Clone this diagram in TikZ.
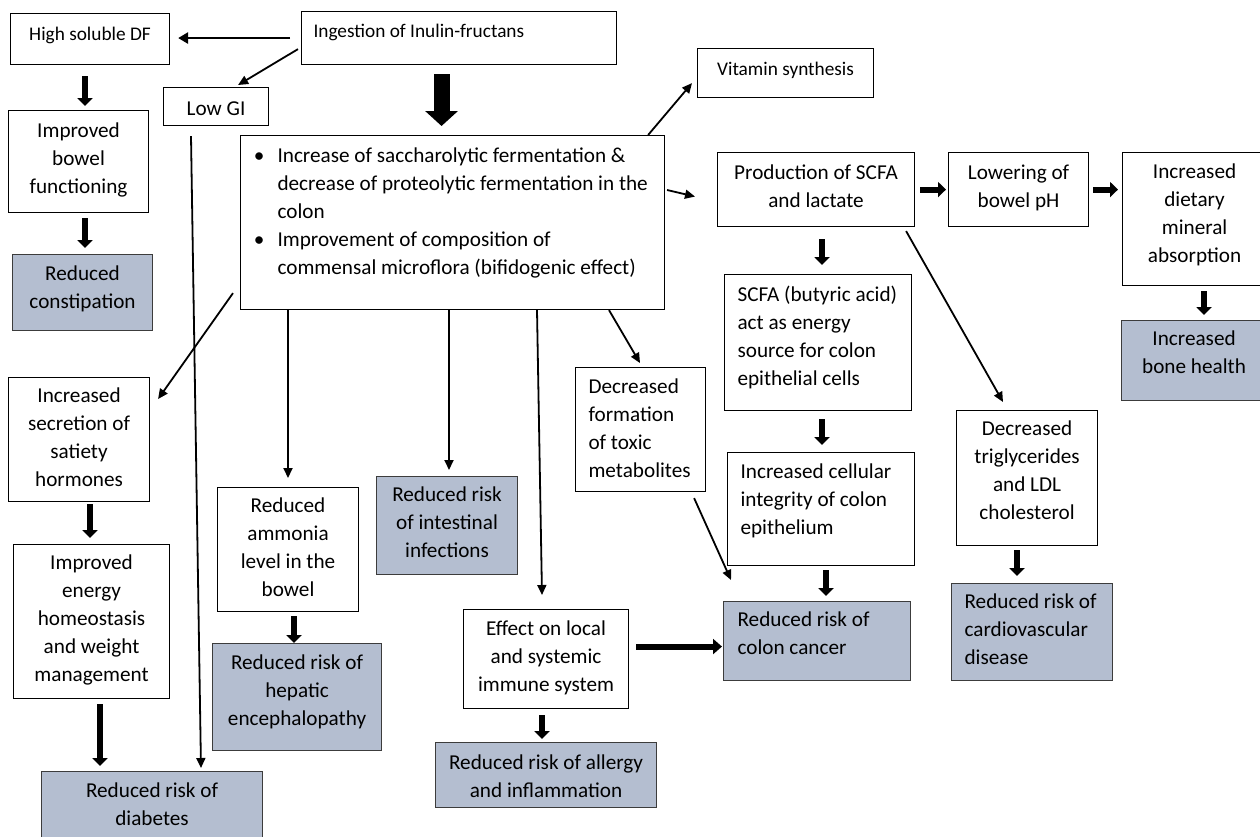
\documentclass[tikz,border=0pt]{standalone}
\usepackage{fontspec}
\setmainfont{Carlito}
\usetikzlibrary{arrows.meta,calc}
\definecolor{bluegray}{RGB}{180,190,208}
\definecolor{edgegray}{RGB}{60,60,60}
\newcommand\bxc[4]{\begin{minipage}[t][#2pt][t]{#1pt}\parskip=0pt\vspace*{#3pt}\centering\strut #4\end{minipage}}
\newcommand\bxl[5]{\begin{minipage}[t][#2pt][t]{#1pt}\parskip=0pt\vspace*{#3pt}\raggedright\leftskip=#4pt\relax\strut #5\end{minipage}}
\tikzset{
  box/.style={draw=black, line width=1.1pt, inner sep=0pt, anchor=north west, font=\fontsize{21.2}{28}\selectfont},
  sbox/.style={box, font=\fontsize{19.3}{28}\selectfont},
  gbox/.style={box, draw=edgegray, fill=bluegray},
  arrA/.style={line width=1.8pt, -{Triangle[length=10pt,width=9pt]}},
  arrM/.style={line width=2.8pt, -{Triangle[length=10pt,width=11pt]}},
  arrT/.style={line width=6pt, -{Triangle[length=8pt,width=15pt]}},
  arrE/.style={line width=6pt, -{Triangle[length=9pt,width=15pt]}},
  arrH/.style={line width=16pt, -{Triangle[length=15pt,width=32pt]}},
}
\begin{document}
\begin{tikzpicture}[x=1pt,y=-1pt]
\clip (0,0) rectangle (1260,836);
% top row
\node[sbox] (hsdf) at (10,13) {\bxc{159}{51}{7.4}{High soluble DF}};
\node[sbox] (ingest) at (301,11) {\bxl{315}{53}{6.4}{12}{Ingestion of Inulin-fructans}};
\node[box] (lowgi) at (163,87) {\bxc{105}{38}{8.4}{Low GI}};
\node[box] (main) at (240,135) {\begin{minipage}[t][174pt][t]{424pt}\parskip=0pt\vspace*{7.4pt}\raggedright\leftskip=37pt\relax
\strut\llap{\textbullet\hspace{13pt}}Increase of saccharolytic fermentation \&\newline decrease of proteolytic fermentation in the\newline colon\par
\strut\llap{\textbullet\hspace{13pt}}Improvement of composition of\newline commensal microflora (bifidogenic effect)\end{minipage}};
\node[sbox] (vitamin) at (697,48) {\bxc{176}{49}{7.4}{Vitamin synthesis}};
\node[box] (prod) at (717,152) {\bxc{197}{74}{7.4}{Production of SCFA\\and lactate}};
\node[box] (lower) at (948,152) {\bxc{140}{74}{7.4}{Lowering of\\bowel pH}};
\node[box] (dietary) at (1122,152) {\bxc{144}{133}{6.4}{Increased\\dietary\\mineral\\absorption}};
\node[gbox] (bone) at (1121,320) {\bxc{145}{80}{5.4}{Increased\\bone health}};
% left column
\node[box] (bowel) at (8,110) {\bxc{140}{102}{7.4}{Improved\\bowel\\functioning}};
\node[gbox] (constip) at (12,254) {\bxc{140}{76}{6.4}{Reduced\\constipation}};
\node[box] (satiety) at (8,377) {\bxc{141}{124}{5.4}{Increased\\secretion of\\satiety\\hormones}};
\node[box] (energy) at (13,544) {\bxc{156}{154}{5.4}{Improved\\energy\\homeostasis\\and weight\\management}};
\node[gbox] (diabetes) at (41,771) {\bxc{221}{80}{6.4}{Reduced risk of\\diabetes}};
% middle
\node[box] (ammonia) at (217,487) {\bxc{141}{124}{5.4}{Reduced\\ammonia\\level in the\\bowel}};
\node[gbox] (hepatic) at (212,643) {\bxc{169}{107}{6.4}{Reduced risk of\\hepatic\\encephalopathy}};
\node[gbox] (intest) at (376,476) {\bxc{141}{98}{5.4}{Reduced risk\\of intestinal\\infections}};
\node[box] (effect) at (463,609) {\bxc{165}{99}{6.4}{Effect on local\\and systemic\\immune system}};
\node[gbox] (allergy) at (435,742) {\bxc{221}{65}{7.4}{Reduced risk of allergy\\and inflammation}};
\node[box] (toxic) at (575,367) {\bxl{130}{124}{6.4}{13}{Decreased\\formation\\of toxic\\metabolites}};
% right
\node[box] (scfa) at (724,274) {\bxl{187}{136}{7.4}{13}{SCFA (butyric acid)\\act as energy\\source for colon\\epithelial cells}};
\node[box] (integ) at (727,452) {\bxl{187}{113}{6.4}{13}{Increased cellular\\integrity of colon\\epithelium}};
\node[gbox] (colon) at (723,601) {\bxl{187}{79}{5.4}{14}{Reduced risk of\\colon cancer}};
\node[box] (trig) at (956,410) {\bxc{141}{135}{5.4}{Decreased\\triglycerides\\and LDL\\cholesterol}};
\node[gbox] (cardio) at (951,583) {\bxl{161}{97}{5.4}{13}{Reduced risk of\\cardiovascular\\disease}};
% connectors
\draw[arrM, shorten <=11pt, shorten >=8pt] (ingest.west) -- (ingest.west -| hsdf.east);
\draw[arrA] ($(ingest.south west)+(-3,-16)$) -- ($(lowgi.north east)+(-31,-2)$);
\draw[arrH] ($(ingest.south)+(-17.5,9)$) -- ($(main.north)+(-11,-9)$);
\draw[arrA] ($(lowgi.south west)+(28,10)$) -- ($(diabetes.north west)+(160,-3)$);
\draw[arrA] ($(main.south west)+(-7,-17)$) -- ($(satiety.north east)+(8,22)$);
\draw[arrA] ($(main.south west)+(48,0)$) -- ($(ammonia.north west)+(71,-9)$);
\draw[arrA] ($(main.south west)+(209,0)$) -- ($(intest.north west)+(73,-6)$);
\draw[arrA] ($(main.south west)+(297,0)$) -- ($(effect.north west)+(79,-14)$);
\draw[arrA] ($(main.south west)+(369,0)$) -- ($(toxic.north west)+(65,-4)$);
\draw[arrA] ($(main.north east)+(-17,0)$) -- ($(vitamin.south west)+(-5,-15)$);
\draw[arrA] ($(main.north east)+(2,55)$) -- ($(prod.west)+(-22,7)$);
\draw[arrT, shorten <=5pt, shorten >=2pt] (prod.east) -- (lower.west);
\draw[arrT, shorten <=4pt, shorten >=4pt] (lower.east) -- (lower.east -| dietary.west);
\draw[arrT] ($(dietary.south west)+(82,5)$) -- ($(bone.north west)+(83,-5)$);
\draw[arrT] ($(prod.south west)+(105,12)$) -- ($(scfa.north west)+(98,-9)$);
\draw[arrT] ($(scfa.south west)+(98,8)$) -- ($(integ.north west)+(95,-7)$);
\draw[arrT] ($(integ.south west)+(99,4)$) -- ($(colon.north west)+(103,-5)$);
\draw[arrA] ($(prod.south east)+(-9,4)$) -- ($(trig.north west)+(47,-8)$);
\draw[arrT] ($(trig.south west)+(61,4)$) -- ($(cardio.north west)+(66,-7)$);
\draw[arrA] ($(toxic.south east)+(-12,6)$) -- ($(colon.north west)+(8,-21)$);
\draw[arrE] ($(effect.east)+(7,-12.5)$) -- ($(colon.west)+(-1,5.5)$);
\draw[arrT] ($(effect.south west)+(79,6)$) -- ($(allergy.north west)+(107,-3)$);
\draw[arrT] ($(ammonia.south west)+(77,4)$) -- ($(hepatic.north west)+(82,0)$);
\draw[arrT] ($(satiety.south west)+(82,2)$) -- ($(energy.north west)+(77,-6)$);
\draw[arrT] ($(energy.south west)+(87,5)$) -- ($(diabetes.north west)+(59,-5)$);
\draw[arrT] ($(hsdf.south west)+(75,11)$) -- ($(bowel.north west)+(77,-4)$);
\draw[arrT] ($(bowel.south west)+(77,5)$) -- ($(constip.north west)+(73,-6)$);
\end{tikzpicture}
\end{document}
